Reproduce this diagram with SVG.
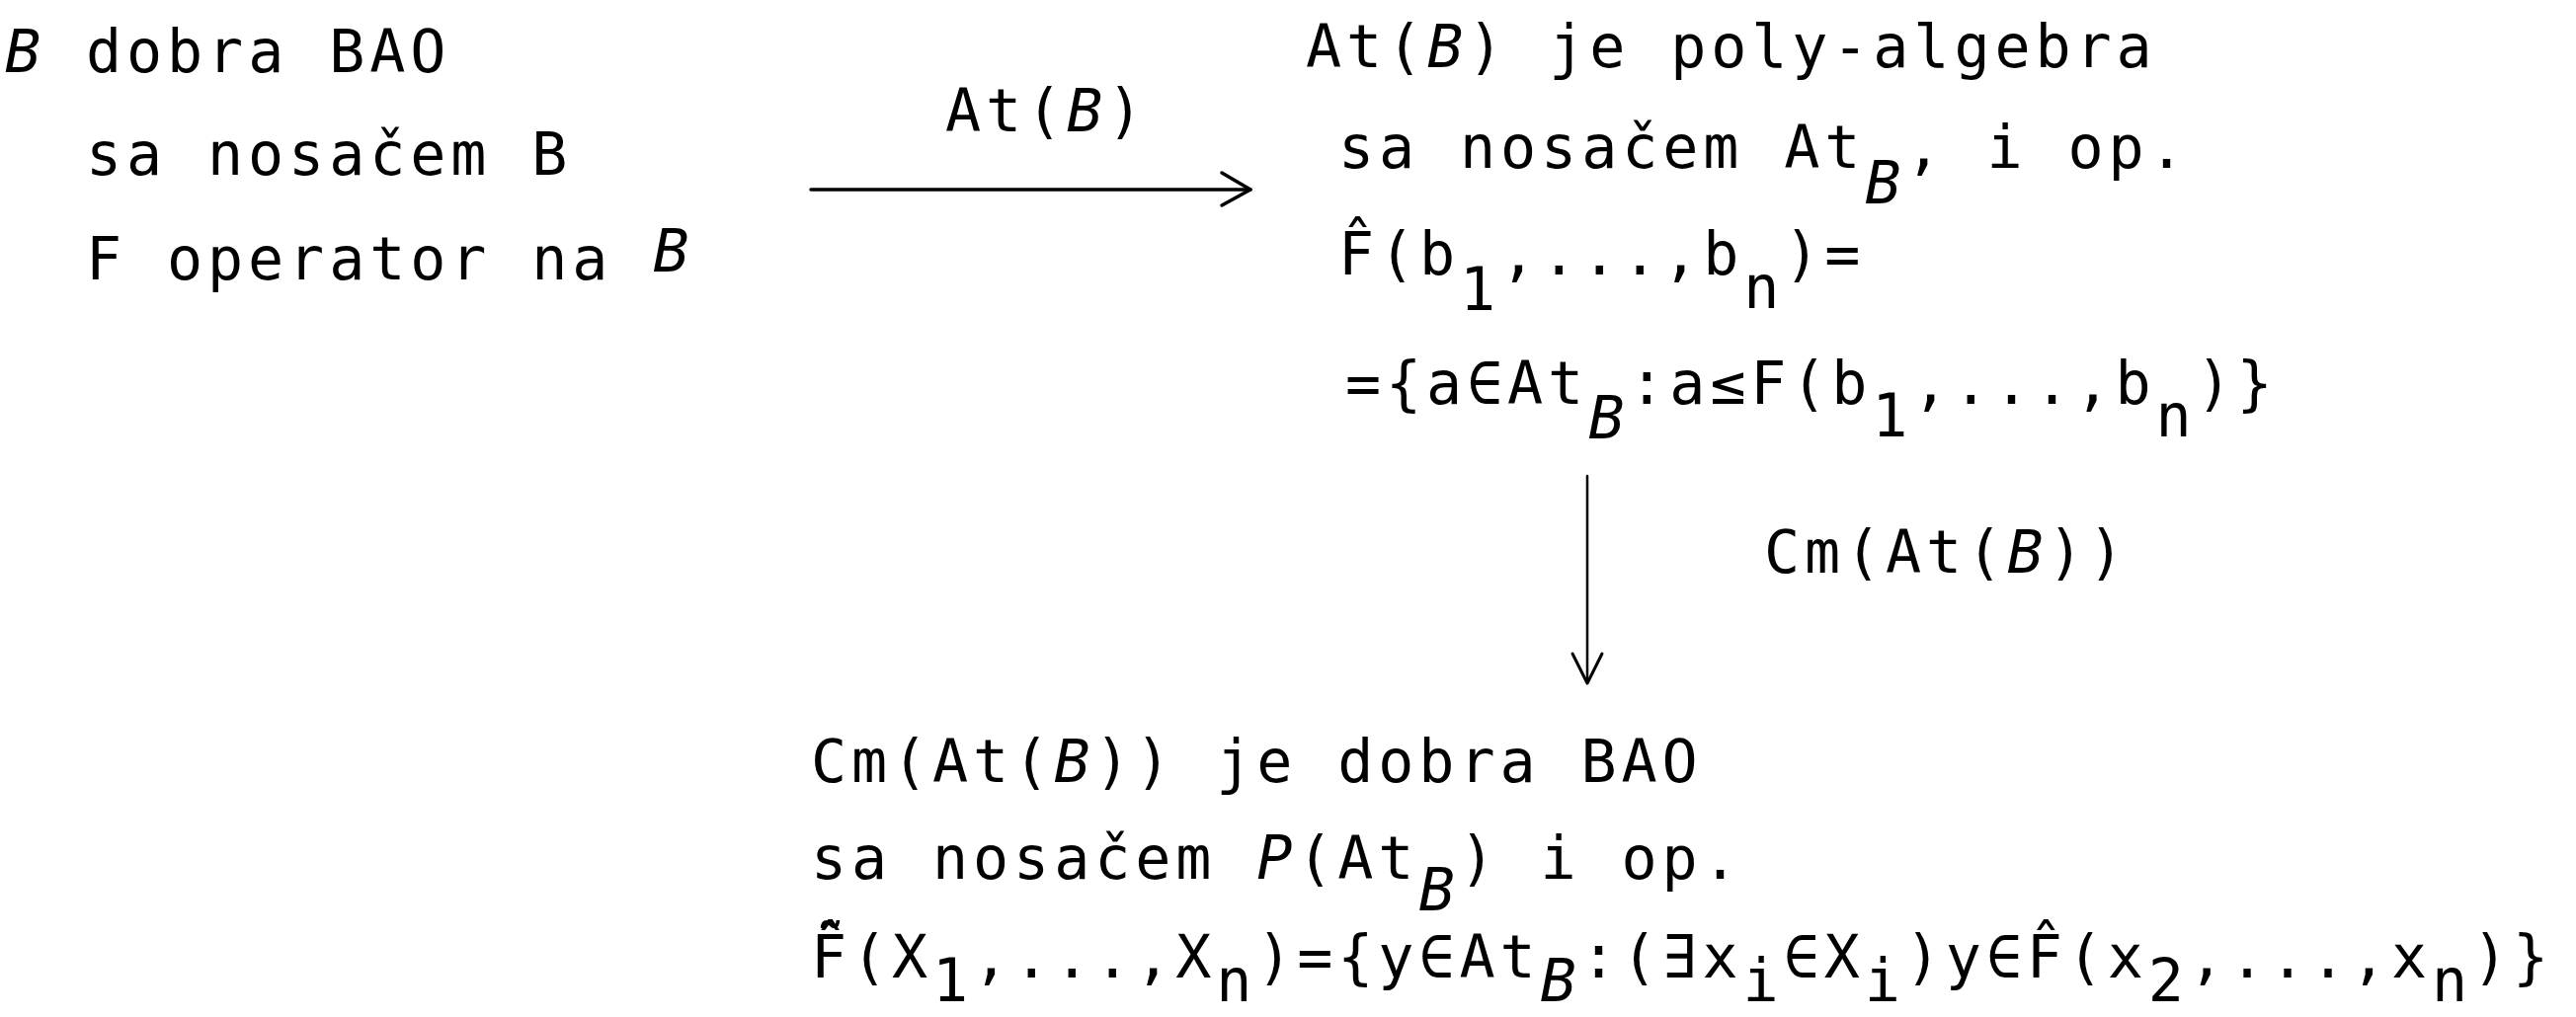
<svg xmlns="http://www.w3.org/2000/svg" width="2608" height="1030" viewBox="0 0 2608 1030">
<style>
.t{font-family:"DejaVu Sans Mono","Liberation Mono",monospace;font-size:60px;letter-spacing:4.9px;fill:#000}
.s{font-style:italic}
.ln{stroke:#000;fill:none;stroke-linecap:round;stroke-linejoin:round}
</style>
<rect width="2608" height="1030" fill="#fff"/>
<g id="node-B">
<text class="t" x="5" y="73"><tspan class="s">B</tspan> dobra BAO</text>
<text class="t" x="87" y="177">sa nosačem B</text>
<text class="t" x="87" y="283">F operator na <tspan class="s" dy="-8">B</tspan></text>
</g>
<g id="node-AtB">
<text class="t" x="1322" y="68">At(<tspan class="s">B</tspan>) je poly-algebra</text>
<text class="t" x="1355" y="170">sa nosačem At<tspan class="s" dy="36">B</tspan><tspan dy="-36">, i op.</tspan></text>
<text class="t" x="1355" y="278">F&#x302;(b<tspan dy="36">1</tspan><tspan dy="-36">,...,b</tspan><tspan dy="34">n</tspan><tspan dy="-34">)=</tspan></text>
<text class="t" x="1362" y="409">={a∈At<tspan class="s" dy="35">B</tspan><tspan dy="-35">:a≤F(b</tspan><tspan dy="33">1</tspan><tspan dy="-33">,...,b</tspan><tspan dy="33">n</tspan><tspan dy="-33">)}</tspan></text>
</g>
<g id="node-Cm">
<text class="t" x="821" y="792">Cm(At(<tspan class="s">B</tspan>)) je dobra BAO</text>
<text class="t" x="821" y="890">sa nosačem <tspan class="s">P</tspan>(At<tspan class="s" dy="32">B</tspan><tspan dy="-32">) i op.</tspan></text>
<text class="t" x="821" y="990">F&#x303;&#x302;(X<tspan dy="24">1</tspan><tspan dy="-24">,...,X</tspan><tspan dy="24">n</tspan><tspan dy="-24">)={y∈At</tspan><tspan class="s" dy="24">B</tspan><tspan dy="-24">:(∃x</tspan><tspan dy="24">i</tspan><tspan dy="-24">∈X</tspan><tspan dy="24">i</tspan><tspan dy="-24">)y∈F&#x302;(x</tspan><tspan dy="24">2</tspan><tspan dy="-24">,...,x</tspan><tspan dy="24">n</tspan><tspan dy="-24">)}</tspan></text>
</g>
<g id="connectors">
<g id="edge-At">
<line class="ln" x1="821" y1="192" x2="1266" y2="192" stroke-width="3.5"/>
<polyline class="ln" points="1237,175 1266,192 1237,208" stroke-width="3.5"/>
<text class="t" x="957" y="133">At(<tspan class="s">B</tspan>)</text>
</g>
<g id="edge-Cm">
<line class="ln" x1="1607" y1="482" x2="1607" y2="690" stroke-width="2.5"/>
<polyline class="ln" points="1592,662 1607,692 1622,662" stroke-width="3"/>
<text class="t" x="1786" y="580">Cm(At(<tspan class="s">B</tspan>))</text>
</g>
</g>
</svg>
